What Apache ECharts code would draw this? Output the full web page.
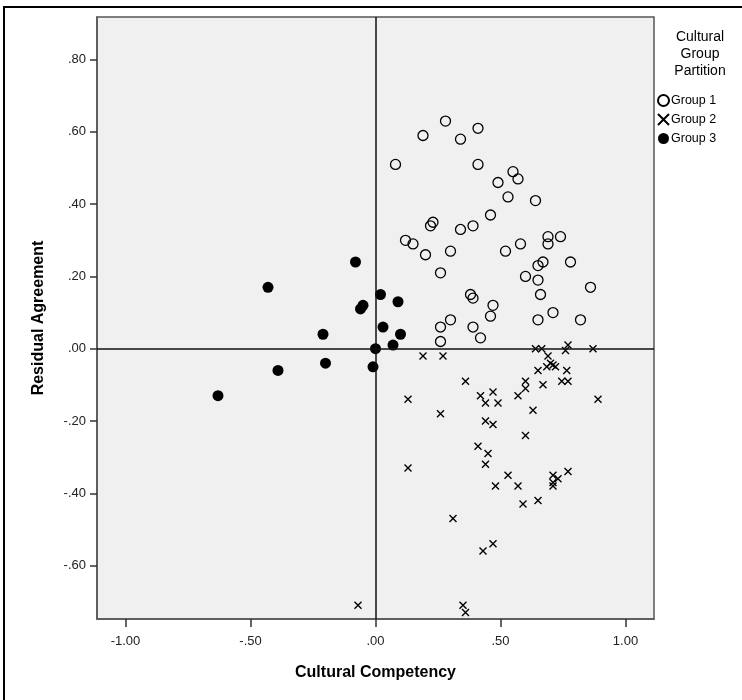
<!DOCTYPE html>
<html>
<head>
<meta charset="utf-8">
<script src="https://cdn.jsdelivr.net/npm/echarts@6/dist/echarts.min.js"></script>
<style>
  html, body { margin: 0; padding: 0; background: #fff; }
  #chart { width: 742px; height: 700px; }
</style>
</head>
<body>
<div id="chart"></div>
<script>
// 数据：三个文化分组的散点 [Cultural Competency, Residual Agreement]
const group1 = [
  [0.28, 0.63], [0.19, 0.59], [0.34, 0.58], [0.41, 0.61], [0.08, 0.51], [0.41, 0.51],
  [0.55, 0.49], [0.57, 0.47], [0.49, 0.46], [0.53, 0.42], [0.64, 0.41], [0.46, 0.37],
  [0.23, 0.35], [0.22, 0.34], [0.39, 0.34], [0.34, 0.33], [0.12, 0.30], [0.15, 0.29],
  [0.20, 0.26], [0.30, 0.27], [0.52, 0.27], [0.58, 0.29], [0.69, 0.31], [0.69, 0.29],
  [0.74, 0.31], [0.78, 0.24], [0.67, 0.24], [0.65, 0.23], [0.26, 0.21], [0.60, 0.20],
  [0.65, 0.19], [0.66, 0.15], [0.86, 0.17], [0.38, 0.15], [0.39, 0.14], [0.47, 0.12],
  [0.46, 0.09], [0.71, 0.10], [0.65, 0.08], [0.82, 0.08], [0.30, 0.08], [0.26, 0.06],
  [0.39, 0.06], [0.26, 0.02], [0.42, 0.03]
];
const group2 = [
  [0.19, -0.02], [0.27, -0.02], [0.36, -0.09], [0.13, -0.14], [0.26, -0.18], [0.42, -0.13],
  [0.47, -0.12], [0.44, -0.15], [0.49, -0.15], [0.44, -0.20], [0.47, -0.21], [0.60, -0.24],
  [0.63, -0.17], [0.57, -0.13], [0.60, -0.09], [0.60, -0.11], [0.67, -0.10], [0.65, -0.06],
  [0.69, -0.02], [0.70, -0.04], [0.71, -0.045], [0.72, -0.05], [0.685, -0.05], [0.76, -0.005],
  [0.77, 0.01], [0.765, -0.06], [0.745, -0.09], [0.77, -0.09], [0.64, 0.00], [0.665, 0.00],
  [0.87, 0.00], [0.89, -0.14], [0.13, -0.33], [0.41, -0.27], [0.45, -0.29], [0.44, -0.32],
  [0.53, -0.35], [0.48, -0.38], [0.57, -0.38], [0.59, -0.43], [0.65, -0.42], [0.71, -0.35],
  [0.73, -0.36], [0.71, -0.37], [0.71, -0.38], [0.77, -0.34], [0.31, -0.47], [0.43, -0.56],
  [0.47, -0.54], [0.35, -0.71], [0.36, -0.73], [-0.07, -0.71]
];
const group3 = [
  [-0.63, -0.13], [-0.43, 0.17], [-0.39, -0.06], [-0.21, 0.04], [-0.20, -0.04], [-0.08, 0.24],
  [-0.06, 0.11], [-0.05, 0.12], [0.02, 0.15], [0.03, 0.06], [0.09, 0.13], [0.10, 0.04],
  [0.07, 0.01], [0.00, 0.00], [-0.01, -0.05]
];
const xTicks = [-1, -0.5, 0, 0.5, 1];
const yTicks = [-0.6, -0.4, -0.2, 0, 0.2, 0.4, 0.6, 0.8];

// SPSS 风格的刻度标签：.80  -.20  1.00
function spssLabel(v) {
  let s = Math.abs(v).toFixed(2);
  if (s.charAt(0) === '0') s = s.slice(1);
  return (v < -1e-9 ? '-' : '') + s;
}

const FONT = 'Liberation Sans, Arial, sans-serif';
const crossPath = 'path://M0,0L10,10M0,10L10,0';

const chart = echarts.init(document.getElementById('chart'), null, { renderer: 'canvas' });

const option = {
  backgroundColor: '#ffffff',
  animation: false,
  grid: {
    left: 97, top: 17, right: 88, bottom: 81,
    show: true,
    backgroundColor: '#f0f0f0',
    borderColor: '#555555',
    borderWidth: 1.5
  },
  xAxis: {
    type: 'value',
    min: -1.114,
    max: 1.114,
    name: 'Cultural Competency',
    nameLocation: 'middle',
    nameGap: 46,
    nameTextStyle: { fontFamily: FONT, fontSize: 16, fontWeight: 'bold', color: '#000' },
    axisLine: { show: true, onZero: false, lineStyle: { color: '#555555', width: 1.5 } },
    axisTick: { show: true, customValues: xTicks, length: 8, lineStyle: { color: '#333', width: 1.5 } },
    axisLabel: {
      customValues: xTicks, formatter: spssLabel, margin: 16,
      fontFamily: FONT, fontSize: 13, color: '#222'
    },
    splitLine: { show: false }
  },
  yAxis: {
    type: 'value',
    min: -0.748,
    max: 0.918,
    name: 'Residual Agreement',
    nameLocation: 'middle',
    nameGap: 50,
    nameRotate: 90,
    nameTextStyle: { fontFamily: FONT, fontSize: 16, fontWeight: 'bold', color: '#000' },
    axisLine: { show: true, onZero: false, lineStyle: { color: '#555555', width: 1.5 } },
    axisTick: { show: true, customValues: yTicks, length: 7, lineStyle: { color: '#333', width: 1.5 } },
    axisLabel: {
      customValues: yTicks, formatter: spssLabel, margin: 11,
      fontFamily: FONT, fontSize: 13, color: '#222'
    },
    splitLine: { show: false }
  },
  legend: {
    orient: 'vertical',
    left: 652,
    top: 89,
    itemWidth: 11,
    itemHeight: 11,
    itemGap: 6,
    textStyle: { fontFamily: FONT, fontSize: 12.5, color: '#000', padding: [0, 0, 0, -3] },
    data: ['Group 1', 'Group 2', 'Group 3']
  },
  graphic: [
    {
      type: 'text',
      x: 700, y: 29,
      style: {
        text: 'Cultural\nGroup\nPartition',
        align: 'center',
        lineHeight: 17,
        font: '14px ' + FONT,
        fill: '#000'
      }
    },
    { type: 'line', shape: { x1: 3, y1: 7, x2: 742, y2: 7 }, style: { stroke: '#000', lineWidth: 2 } },
    { type: 'line', shape: { x1: 4, y1: 7, x2: 4, y2: 700 }, style: { stroke: '#000', lineWidth: 2 } }
  ],
  series: [
    {
      name: 'Group 1',
      type: 'scatter',
      symbol: 'circle',
      symbolSize: 10,
      itemStyle: { color: 'rgba(0,0,0,0)', borderColor: '#000', borderWidth: 1.3, opacity: 1 },
      data: group1,
      markLine: {
        silent: true,
        symbol: 'none',
        label: { show: false },
        lineStyle: { color: '#111', width: 1.5, type: 'solid' },
        data: [{ xAxis: 0 }, { yAxis: 0 }]
      }
    },
    {
      name: 'Group 2',
      type: 'scatter',
      symbol: crossPath,
      symbolSize: 7,
      itemStyle: { color: 'rgba(0,0,0,0)', borderColor: '#000', borderWidth: 1.4, opacity: 1 },
      data: group2
    },
    {
      name: 'Group 3',
      type: 'scatter',
      symbol: 'circle',
      symbolSize: 11,
      itemStyle: { color: '#000', opacity: 1 },
      data: group3
    }
  ]
};

chart.setOption(option);
</script>
</body>
</html>
